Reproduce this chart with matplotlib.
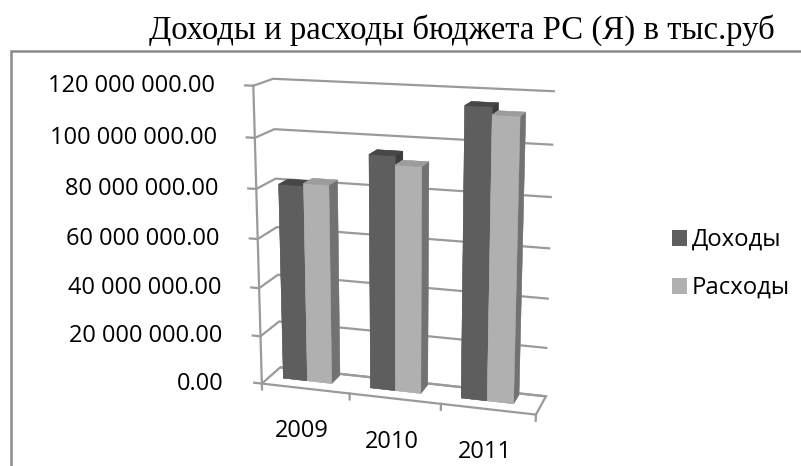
import numpy as np
import matplotlib.pyplot as plt
from matplotlib.patches import Rectangle, Patch
from mpl_toolkits.mplot3d import proj3d

years = ['2009', '2010', '2011']
dohody = [80.5e6, 94.5e6, 115.0e6]
rashody = [81.5e6, 91.0e6, 112.0e6]
zticks = [0, 20e6, 40e6, 60e6, 80e6, 100e6, 120e6]
series_names = ['Доходы', 'Расходы']

grid_c = '#9a9a9a'
# face order for bar3d: bottom, top, front, back, left, right
dark = ['#5e5e5e', '#474747', '#5e5e5e', '#5e5e5e', '#5e5e5e', '#3c3c3c']
light = ['#b0b0b0', '#9c9c9c', '#b0b0b0', '#b0b0b0', '#b0b0b0', '#727272']

sans = ['Open Sans', 'DejaVu Sans']
serif = ['Liberation Serif', 'DejaVu Serif']


def money(v):
    return '{:,.2f}'.format(v).replace(',', ' ')


fig = plt.figure(figsize=(8.01, 4.66), dpi=100)

# chart frame, its right and bottom sides run off the canvas
fig.add_artist(Rectangle((11 / 801, -0.1), 1.0, 1.1 - 51 / 466, transform=fig.transFigure,
                         fill=False, ec='#8a8a8a', lw=1.8))
fig.text(462 / 801, 1 - 30 / 466, 'Доходы и расходы бюджета РС (Я) в тыс.руб',
         ha='center', va='center', fontsize=23.6, family=serif)

ax = fig.add_axes([0.235, -0.035, 0.52, 1.0], projection='3d', computed_zorder=False)
ax.set_proj_type('persp', focal_length=0.6)
ax.view_init(elev=15, azim=-73)
ax.set_xlim(0, 3)
ax.set_ylim(0, 1)
ax.set_zlim(0, 120e6)
ax.set_box_aspect((5.7, 1.0, 6.12))

ax.set_xticks([])
ax.set_yticks([])
ax.set_zticks(zticks)
ax.zaxis.set_major_formatter(plt.NullFormatter())
ax.tick_params(axis='z', color=(1, 1, 1, 0))
ax.zaxis._axinfo['grid'].update(color=grid_c, linewidth=1.6)

for a in (ax.xaxis, ax.yaxis):
    a.set_pane_color((1, 1, 1, 0))
    a.pane.set_edgecolor((1, 1, 1, 0))
ax.zaxis.set_pane_color((1, 1, 1, 1))
ax.zaxis.pane.set_edgecolor(grid_c)
ax.zaxis.pane.set_linewidth(1.6)
for a in (ax.xaxis, ax.yaxis, ax.zaxis):
    a.line.set_color((1, 1, 1, 0))


def flat(x, y, z):
    px, py, _ = proj3d.proj_transform(x, y, z, ax.get_proj())
    return px, py


# value axis line, ticks and labels
ax.plot([0, 0], [0, 0], [0, 120e6], color=grid_c, lw=1.6)
for v in zticks:
    ax.plot([0, -0.09], [0, 0], [v, v], color=grid_c, lw=1.6)
    ax.annotate(money(v), xy=flat(0, 0, v), xytext=(-38, 0), textcoords='offset pixels',
                ha='right', va='center', fontsize=17, family=sans, annotation_clip=False)

# category ticks and labels
for i in range(len(years) + 1):
    ax.plot([i, i], [0, 0], [0, -2.5e6], color=grid_c, lw=1.6)
for i, yr in enumerate(years):
    ax.annotate(yr, xy=flat(i + 0.5, 0, 0), xytext=(-3, -43), textcoords='offset pixels',
                ha='center', va='center', fontsize=17, family=sans, annotation_clip=False)

# bars, drawn back to front
w = 0.28
for i in range(len(years)):
    for k, (vals, cols) in enumerate(((dohody, dark), (rashody, light))):
        ax.bar3d(i + 0.16 + k * w, 0.42, 0, w, 0.5, vals[i], color=cols,
                 shade=False, edgecolor=cols, linewidth=0.3)

handles = [Patch(fc=dark[2]), Patch(fc=light[2])]
fig.legend(handles, series_names, loc='center left', bbox_to_anchor=(650 / 801, 1 - 264 / 466),
           frameon=False, prop={'family': sans, 'size': 17.2}, handlelength=0.65,
           handleheight=0.65, handletextpad=0.2, labelspacing=1.0)

fig.savefig('out.png', dpi=100)
